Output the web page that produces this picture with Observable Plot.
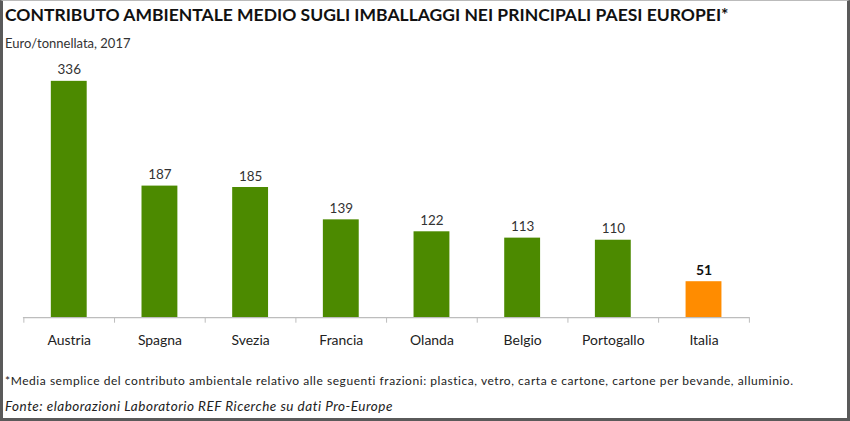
<!DOCTYPE html>
<html>
<head>
<meta charset="utf-8">
<script src="https://cdn.jsdelivr.net/npm/d3@7"></script>
<script src="https://cdn.jsdelivr.net/npm/@observablehq/plot@0.6"></script>
<style>
  html, body { margin: 0; padding: 0; background: #fff; }
  #frame {
    position: relative; width: 850px; height: 421px; box-sizing: border-box;
    border-left: 3px solid #5a5a5a; border-right: 3px solid #5a5a5a;
    border-bottom: 3px solid #5a5a5a; border-top: 1px solid #bbb;
    font-family: Lato, "Open Sans", sans-serif; color: #222; overflow: hidden;
  }
  #title { position: absolute; left: 2px; top: 3px; font-weight: 700; font-size: 17.5px; color: #111; white-space: nowrap; letter-spacing: 0px; }
  #subtitle { position: absolute; left: 2px; top: 34px; font-size: 13px; color: #333; white-space: nowrap; }
  #chart { position: absolute; left: -3px; top: 54px; }
  #note { position: absolute; left: 2px; top: 372px; font-size: 12px; letter-spacing: 0.55px; color: #222; white-space: nowrap; }
  #source { position: absolute; left: 2px; top: 397px; font-size: 13.5px; letter-spacing: 0.5px; font-style: italic; color: #222; white-space: nowrap; }
</style>
</head>
<body>
<div id="frame">
  <div id="title">CONTRIBUTO AMBIENTALE MEDIO SUGLI IMBALLAGGI NEI PRINCIPALI PAESI EUROPEI*</div>
  <div id="subtitle">Euro/tonnellata, 2017</div>
  <div id="chart"></div>
  <div id="note">*Media semplice del contributo ambientale relativo alle seguenti frazioni: plastica, vetro, carta e cartone, cartone per bevande, alluminio.</div>
  <div id="source">Fonte: elaborazioni Laboratorio REF Ricerche su dati Pro-Europe</div>
</div>
<script>
const countries = ["Austria", "Spagna", "Svezia", "Francia", "Olanda", "Belgio", "Portogallo", "Italia"];
const values = [336, 187, 185, 139, 122, 113, 110, 51];
const highlight = "Italia";

const data = countries.map((c, i) => ({country: c, value: values[i]}));
const others = data.filter(d => d.country !== highlight);
const focus = data.filter(d => d.country === highlight);
const green = "#4c8a00", orange = "#ff8c00";

const width = 850, height = 300;
const mL = 23, mR = 98;
const step = (width - mL - mR) / countries.length;

const chart = Plot.plot({
  width, height,
  marginLeft: mL, marginRight: mR, marginTop: 9, marginBottom: 37,
  style: {fontFamily: "Lato, 'Open Sans', sans-serif", fontSize: "14px", color: "#222"},
  x: {domain: countries, paddingInner: 0.6, paddingOuter: 0.3, label: null},
  y: {domain: [0, 360], axis: null},
  marks: [
    Plot.barY(data, {x: "country", y: "value", fill: d => d.country === highlight ? orange : green}),
    Plot.ruleY([0], {stroke: "#bdbdbd", strokeWidth: 1.2}),
    Plot.ruleX(countries, {x: d => d, y1: 0, y2: -8, dx: -step / 2, stroke: "#bdbdbd"}),
    Plot.ruleX([countries[countries.length - 1]], {x: d => d, y1: 0, y2: -8, dx: step / 2, stroke: "#bdbdbd"}),
    Plot.text(others, {
      x: "country", y: "value", text: d => String(d.value), lineAnchor: "bottom", dy: -7,
      fontSize: 13.5, fill: "#333"
    }),
    Plot.text(focus, {
      x: "country", y: "value", text: d => String(d.value), lineAnchor: "bottom", dy: -7,
      fontSize: 14, fill: "#111", fontWeight: "bold"
    }),
    Plot.axisX({tickSize: 0, tickPadding: 18, fontSize: 14, label: null})
  ]
});
document.getElementById("chart").appendChild(chart);
</script>
</body>
</html>
